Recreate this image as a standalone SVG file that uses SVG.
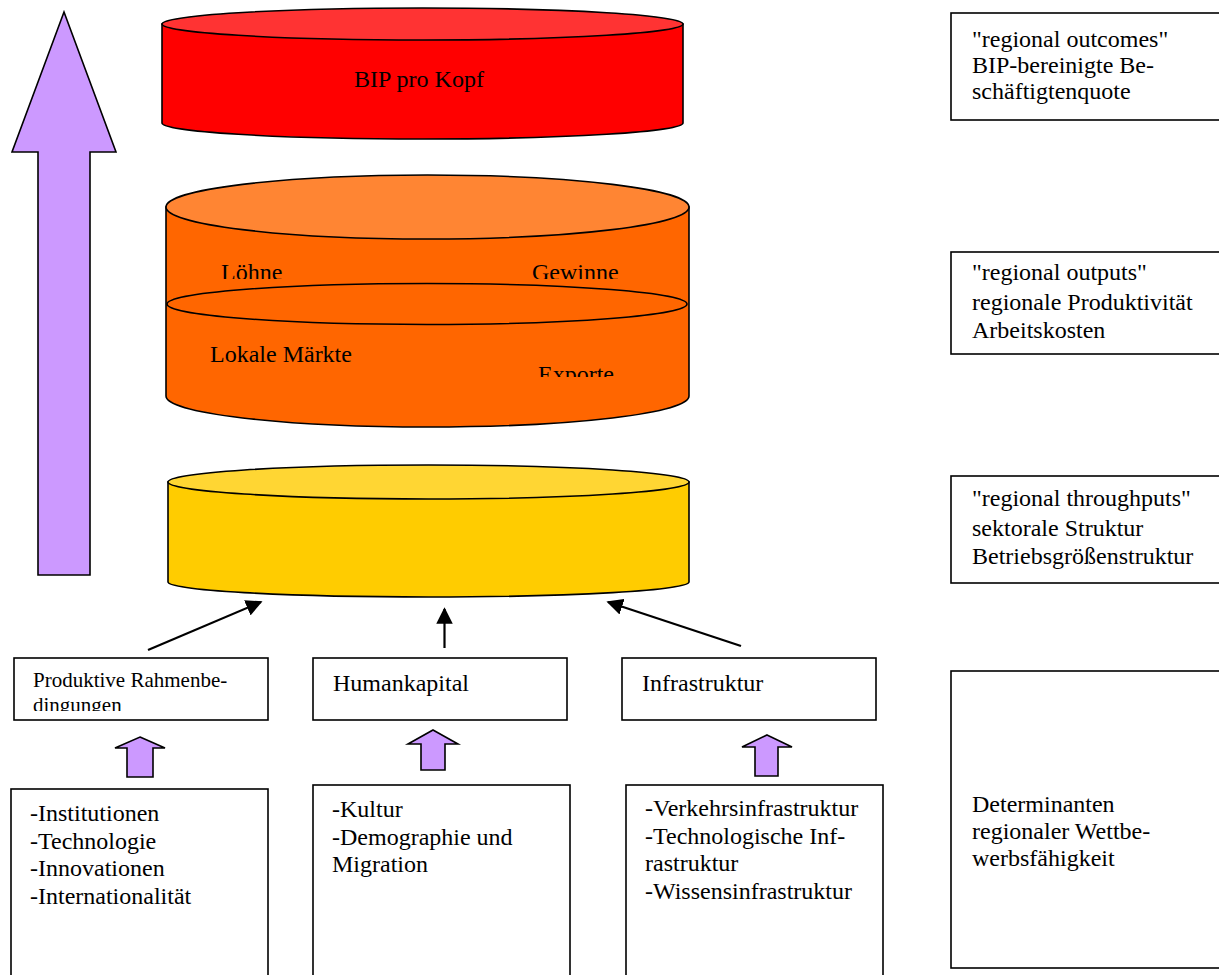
<svg xmlns="http://www.w3.org/2000/svg" width="1219" height="975" viewBox="0 0 1219 975">
<defs>
<style>
text{font-family:"Liberation Serif","Times New Roman",serif;fill:#000}
.t{font-size:24px}
.c{font-size:24px}
.s{font-size:21px}
.box{fill:#fff;stroke:#000;stroke-width:1.6}
.cyl{stroke:#000;stroke-width:1.6}
.pa{fill:#CC99FF;stroke:#000;stroke-width:1.6;stroke-linejoin:miter}
.con{stroke:#000;stroke-width:2.2;fill:none}
</style>
<marker id="ah" viewBox="0 0 10 10" refX="9" refY="5" markerWidth="7.5" markerHeight="7.5" markerUnits="strokeWidth" orient="auto">
<path d="M0,0 L10,5 L0,10 Z" fill="#000"/>
</marker>
<clipPath id="clipTop"><rect x="160" y="240" width="540" height="39"/></clipPath>
<clipPath id="clipExp"><rect x="500" y="340" width="180" height="37"/></clipPath>
<clipPath id="clipProd"><rect x="14" y="658" width="253" height="53"/></clipPath>
</defs>

<g id="big-arrow">
<path class="pa" d="M64,12 L116,152 L90,152 L90,575 L38,575 L38,152 L12,152 Z"/>
</g>

<g id="cyl-outcomes">
<path class="cyl" fill="#FF0000" d="M162,24 L162,123 A260.5,16 0 0 0 683,123 L683,24 Z"/>
<ellipse class="cyl" fill="#FF3333" cx="422.5" cy="24" rx="260.5" ry="16"/>
<text class="c" x="419" y="87" text-anchor="middle">BIP pro Kopf</text>
</g>

<g id="cyl-outputs">
<path class="cyl" fill="#FF6600" d="M166,207 L166,396 A261.5,31 0 0 0 689,396 L689,207 Z"/>
<ellipse class="cyl" fill="#FF8533" cx="427.5" cy="207" rx="261.5" ry="32"/>
<g clip-path="url(#clipTop)">
<text class="c" x="221" y="280">Löhne</text>
<text class="c" x="532" y="280">Gewinne</text>
</g>
<ellipse class="cyl" fill="#FF6600" cx="427" cy="304" rx="260" ry="20.5"/>
<text class="c" x="210" y="362">Lokale Märkte</text>
<g clip-path="url(#clipExp)">
<text class="c" x="538" y="382">Exporte</text>
</g>
</g>

<g id="cyl-throughputs">
<path class="cyl" fill="#FFCC00" d="M168,482 L168,582 A260.5,15 0 0 0 689,582 L689,482 Z"/>
<ellipse class="cyl" fill="#FFD633" cx="428.5" cy="482" rx="260.5" ry="17"/>
</g>

<g id="connectors">
<line class="con" x1="148" y1="650" x2="261" y2="602" marker-end="url(#ah)"/>
<line class="con" x1="444.5" y1="648" x2="444.5" y2="609" marker-end="url(#ah)"/>
<line class="con" x1="741" y1="646" x2="608" y2="602" marker-end="url(#ah)"/>
</g>

<g id="box-produktive">
<rect class="box" x="14" y="658" width="254" height="62"/>
<g clip-path="url(#clipProd)">
<text class="s" x="33" y="687">Produktive Rahmenbe-</text>
<text class="s" x="33" y="712">dingungen</text>
</g>
</g>
<g id="box-humankapital">
<rect class="box" x="313" y="658" width="254" height="62"/>
<text class="t" x="333" y="691">Humankapital</text>
</g>
<g id="box-infrastruktur">
<rect class="box" x="622" y="658" width="254" height="62"/>
<text class="t" x="642" y="691">Infrastruktur</text>
</g>

<g id="up-arrow-1">
<path class="pa" d="M140,737 L165,748 L153,748 L153,777 L127,777 L127,748 L115,748 Z"/>
</g>
<g id="up-arrow-2">
<path class="pa" d="M433,730 L458,744 L445,744 L445,770 L421,770 L421,744 L408,744 Z"/>
</g>
<g id="up-arrow-3">
<path class="pa" d="M767,735 L792,747 L778,747 L778,776 L755,776 L755,747 L742,747 Z"/>
</g>

<g id="box-d">
<rect class="box" x="11" y="789" width="257" height="200"/>
<text class="t" x="30" y="821">-Institutionen</text>
<text class="t" x="30" y="849">-Technologie</text>
<text class="t" x="30" y="876">-Innovationen</text>
<text class="t" x="30" y="904">-Internationalität</text>
</g>
<g id="box-e">
<rect class="box" x="313" y="785" width="257" height="210"/>
<text class="t" x="332" y="817">-Kultur</text>
<text class="t" x="332" y="845">-Demographie und</text>
<text class="t" x="332" y="872">Migration</text>
</g>
<g id="box-f">
<rect class="box" x="626" y="785" width="257" height="210"/>
<text class="t" x="645" y="816">-Verkehrsinfrastruktur</text>
<text class="t" x="645" y="844">-Technologische Inf-</text>
<text class="t" x="645" y="871">rastruktur</text>
<text class="t" x="645" y="899">-Wissensinfrastruktur</text>
</g>

<g id="label-outcomes">
<rect class="box" x="951" y="13" width="280" height="107"/>
<text class="t" x="972" y="47">"regional outcomes"</text>
<text class="t" x="972" y="73">BIP-bereinigte Be-</text>
<text class="t" x="972" y="99">schäftigtenquote</text>
</g>
<g id="label-outputs">
<rect class="box" x="951" y="252" width="280" height="102"/>
<text class="t" x="972" y="280">"regional outputs"</text>
<text class="t" x="972" y="310">regionale Produktivität</text>
<text class="t" x="972" y="338">Arbeitskosten</text>
</g>
<g id="label-throughputs">
<rect class="box" x="951" y="476" width="280" height="107"/>
<text class="t" x="972" y="506">"regional throughputs"</text>
<text class="t" x="972" y="536">sektorale Struktur</text>
<text class="t" x="972" y="564">Betriebsgrößenstruktur</text>
</g>
<g id="label-determinanten">
<rect class="box" x="951" y="671" width="280" height="297"/>
<text class="t" x="972" y="812">Determinanten</text>
<text class="t" x="972" y="839">regionaler Wettbe-</text>
<text class="t" x="972" y="866">werbsfähigkeit</text>
</g>
</svg>
